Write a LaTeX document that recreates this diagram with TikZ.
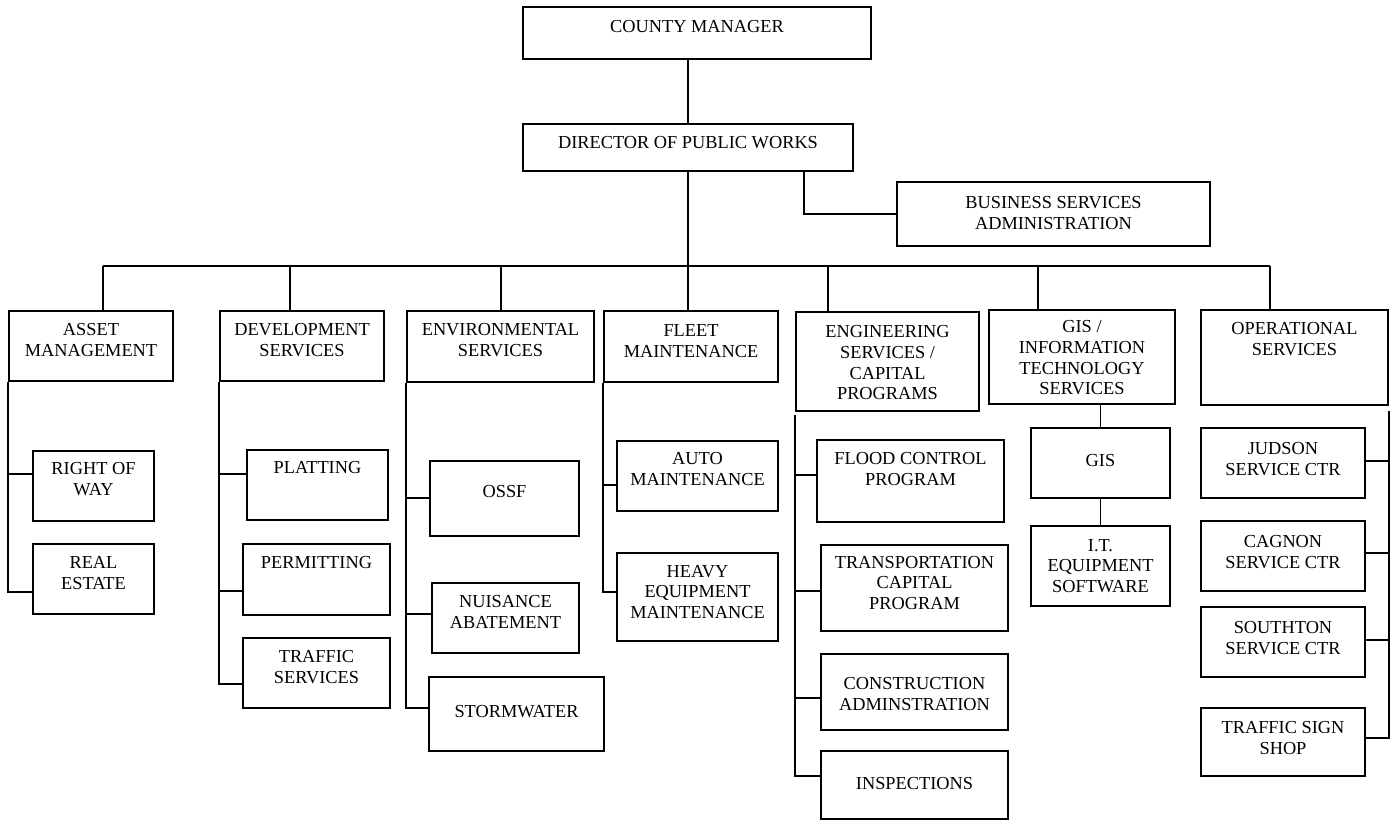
\documentclass[tikz,border=0pt]{standalone}
\usepackage{fontspec}
\setmainfont{Liberation Serif}
\tikzset{
	box/.style={draw,inner sep=0pt,line width=1.1pt},
	txt/.style={align=center,inner sep=0pt,font=\fontsize{11}{12.4}\selectfont}}
\begin{document}
\begin{tikzpicture}[x=0.6pt,y=-0.6pt,line width=1.1pt]
		\useasboundingbox (0,0) rectangle (1392,821);
		% top of the chart
		\node[box,minimum width=208.8pt,minimum height=31.2pt] (cm) at (697,33) {};
		\node[box,minimum width=198pt,minimum height=28.2pt] (dir) at (688,147.5) {};
		\node[box,minimum width=187.8pt,minimum height=38.4pt] (bsa) at (1053.5,214) {};
		\node[txt] (cm-t) at (697,27) {COUNTY MANAGER};
		\node[txt] (dir-t) at (688,143) {DIRECTOR OF PUBLIC WORKS};
		\node[txt] (bsa-t) at (1053.5,213) {BUSINESS SERVICES\\ADMINISTRATION};
		% divisions
		\node[box,minimum width=98.4pt,minimum height=42pt] (am) at (91,346) {};
		\node[box,minimum width=98.4pt,minimum height=42pt] (dev) at (302,346) {};
		\node[box,minimum width=112.2pt,minimum height=42.6pt] (env) at (500.5,346.5) {};
		\node[box,minimum width=104.4pt,minimum height=42.6pt] (fleet) at (691,346.5) {};
		\node[box,minimum width=109.8pt,minimum height=59.4pt] (eng) at (887.5,361.5) {};
		\node[box,minimum width=111.6pt,minimum height=56.4pt] (gis) at (1082,357) {};
		\node[box,minimum width=112.2pt,minimum height=57pt] (ops) at (1294.5,357.5) {};
		\node[txt] (am-t) at (91,340) {ASSET\\MANAGEMENT};
		\node[txt] (dev-t) at (302,340) {DEVELOPMENT\\SERVICES};
		\node[txt] (env-t) at (500.5,340) {ENVIRONMENTAL\\SERVICES};
		\node[txt] (fleet-t) at (691,341) {FLEET\\MAINTENANCE};
		\node[txt] (eng-t) at (887.5,363) {ENGINEERING\\SERVICES /\\CAPITAL\\PROGRAMS};
		\node[txt] (gis-t) at (1082,358) {GIS /\\INFORMATION\\TECHNOLOGY\\SERVICES};
		\node[txt] (ops-t) at (1294.5,339) {OPERATIONAL\\SERVICES};
		% sections
		\node[box,minimum width=72.6pt,minimum height=42pt] (row) at (93.5,486) {};
		\node[box,minimum width=72.6pt,minimum height=42pt] (re) at (93.5,579) {};
		\node[box,minimum width=84.6pt,minimum height=42pt] (plat) at (317.5,485) {};
		\node[box,minimum width=88.2pt,minimum height=42.6pt] (perm) at (316.5,579.5) {};
		\node[box,minimum width=88.2pt,minimum height=42pt] (trs) at (316.5,673) {};
		\node[box,minimum width=89.4pt,minimum height=45pt] (ossf) at (504.5,498.5) {};
		\node[box,minimum width=88.2pt,minimum height=42pt] (nuis) at (505.5,618) {};
		\node[box,minimum width=105pt,minimum height=44.4pt] (storm) at (516.5,714) {};
		\node[box,minimum width=96.6pt,minimum height=42pt] (auto) at (697.5,476) {};
		\node[box,minimum width=96.6pt,minimum height=52.8pt] (heavy) at (697.5,597) {};
		\node[box,minimum width=112.2pt,minimum height=49.2pt] (flood) at (910.5,481) {};
		\node[box,minimum width=112.2pt,minimum height=51.6pt] (trans) at (914.5,588) {};
		\node[box,minimum width=112.2pt,minimum height=45.6pt] (cons) at (914.5,692) {};
		\node[box,minimum width=112.2pt,minimum height=40.8pt] (insp) at (914.5,785) {};
		\node[box,minimum width=83.4pt,minimum height=42pt] (gsub) at (1100.5,463) {};
		\node[box,minimum width=83.4pt,minimum height=48pt] (it) at (1100.5,566) {};
		\node[box,minimum width=98.4pt,minimum height=42pt] (jud) at (1283,463) {};
		\node[box,minimum width=98.4pt,minimum height=42pt] (cag) at (1283,556) {};
		\node[box,minimum width=98.4pt,minimum height=42pt] (sou) at (1283,642) {};
		\node[box,minimum width=98.4pt,minimum height=40.8pt] (tss) at (1283,742) {};
		\node[txt] (row-t) at (93.5,479) {RIGHT OF\\WAY};
		\node[txt] (re-t) at (93.5,573) {REAL\\ESTATE};
		\node[txt] (plat-t) at (317.5,468) {PLATTING};
		\node[txt] (perm-t) at (316.5,563) {PERMITTING};
		\node[txt] (trs-t) at (316.5,667) {TRAFFIC\\SERVICES};
		\node[txt] (ossf-t) at (504.5,492) {OSSF};
		\node[txt] (nuis-t) at (505.5,612) {NUISANCE\\ABATEMENT};
		\node[txt] (storm-t) at (516.5,712) {STORMWATER};
		\node[txt] (auto-t) at (697.5,469) {AUTO\\MAINTENANCE};
		\node[txt] (heavy-t) at (697.5,592) {HEAVY\\EQUIPMENT\\MAINTENANCE};
		\node[txt] (flood-t) at (910.5,469) {FLOOD CONTROL\\PROGRAM};
		\node[txt] (trans-t) at (914.5,583) {TRANSPORTATION\\CAPITAL\\PROGRAM};
		\node[txt] (cons-t) at (914.5,694) {CONSTRUCTION\\ADMINSTRATION};
		\node[txt] (insp-t) at (914.5,784) {INSPECTIONS};
		\node[txt] (gsub-t) at (1100.5,461) {GIS};
		\node[txt] (it-t) at (1100.5,566) {I.T.\\EQUIPMENT\\SOFTWARE};
		\node[txt] (jud-t) at (1283,459) {JUDSON\\SERVICE CTR};
		\node[txt] (cag-t) at (1283,552) {CAGNON\\SERVICE CTR};
		\node[txt] (sou-t) at (1283,638) {SOUTHTON\\SERVICE CTR};
		\node[txt] (tss-t) at (1283,738) {TRAFFIC SIGN\\SHOP};
		% lines
		\draw (dir.north) -- (dir.north |- cm.south);
		\draw (dir.south) -- (dir.south |- fleet.north);
		\draw (dir.south -| 804,0) |- (bsa.west);
		\coordinate (busl) at (103,266);
		\coordinate (busr) at (1270,266);
		\draw (busl) -- (busr);
		\foreach \bx/\bn in {103/am,290/dev,501/env,828/eng,1038/gis,1270/ops}
			\draw (\bx,266) -- (\bn.north -| \bx,0);
		\draw (am.south west) |- (re.west |- 0,592);
		\draw (am.south west |- 0,474) -- (row.west |- 0,474);
		\draw (dev.south west) |- (trs.west |- 0,684);
		\draw (dev.south west |- 0,474) -- (plat.west |- 0,474);
		\draw (dev.south west |- 0,591) -- (perm.west |- 0,591);
		\draw (env.south west) |- (storm.west |- 0,708);
		\draw (env.south west |- 0,498) -- (ossf.west |- 0,498);
		\draw (env.south west |- 0,614) -- (nuis.west |- 0,614);
		\draw (fleet.south west) |- (heavy.west |- 0,592);
		\draw (fleet.south west |- 0,485) -- (auto.west |- 0,485);
		\draw ([yshift=-2pt]eng.south west) |- (insp.west |- 0,776);
		\draw (eng.south west |- 0,475) -- (flood.west |- 0,475);
		\draw (eng.south west |- 0,591) -- (trans.west |- 0,591);
		\draw (eng.south west |- 0,698) -- (cons.west |- 0,698);
		\draw (gis.south -| gsub.north) -- (gsub.north);
		\draw (gsub.south) -- (it.north);
		\draw ([yshift=-3pt]ops.south east) |- (tss.east |- 0,738);
		\draw (ops.south east |- 0,461) -- (jud.east |- 0,461);
		\draw (ops.south east |- 0,553) -- (cag.east |- 0,553);
		\draw (ops.south east |- 0,640) -- (sou.east |- 0,640);
\end{tikzpicture}
\end{document}
